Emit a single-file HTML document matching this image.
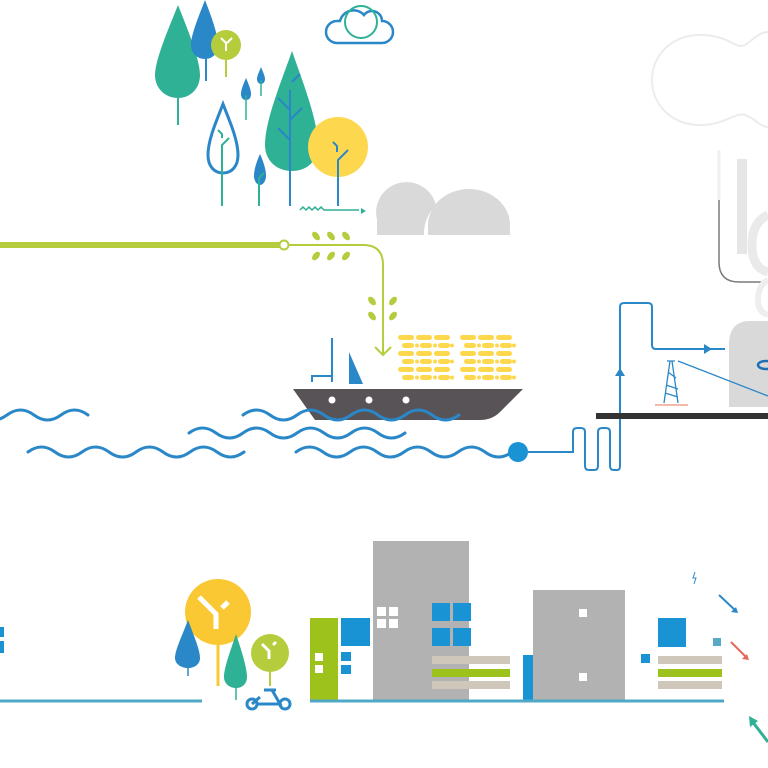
<!DOCTYPE html>
<html><head><meta charset="utf-8"><style>html,body{margin:0;padding:0;background:#fff}svg{display:block}</style></head>
<body>
<svg width="768" height="768" viewBox="0 0 768 768" xmlns="http://www.w3.org/2000/svg">
<!-- ghost shapes top right -->
<g fill="none" stroke="#ececec" stroke-width="2">
<path d="M700 35 C 730 35 735 50 745 45 C 755 38 760 32 768 32 M700 35 C 672 35 652 55 652 80 C 652 105 672 125 700 125 C 725 125 735 112 745 115 C 755 118 760 127 768 127"/>
</g>
<path d="M719 150 L719 262 Q719 282 739 282 L768 282" fill="none" stroke="#7a7a7a" stroke-width="1.5"/>
<path d="M719 150 L719 200" stroke="#f0f0f0" stroke-width="3"/>
<rect x="737" y="159" width="10" height="95" fill="#e6e6e6"/>
<path d="M768 215 Q752 222 752 245 Q752 268 768 272" fill="none" stroke="#eaeaea" stroke-width="9"/>
<path d="M768 280 Q758 285 758 300 Q758 312 768 315" fill="none" stroke="#eeeeee" stroke-width="6"/>

<!-- top trees -->
<path d="M178 5 C168 30 155 60 155 75 C155 88 165 98 178 98 C191 98 200 88 200 75 C200 60 188 30 178 5Z" fill="#2fb195"/>
<line x1="178" y1="98" x2="178" y2="125" stroke="#2fb195" stroke-width="2"/>
<path d="M205 0 C198 18 191 35 191 45 C191 53 197 59 205 59 C213 59 218 53 218 45 C218 35 212 18 205 0Z" fill="#2a87c8"/>
<line x1="206" y1="59" x2="206" y2="81" stroke="#2a87c8" stroke-width="2"/>
<circle cx="226" cy="45" r="15" fill="#b5cc3d"/>
<line x1="226" y1="55" x2="226" y2="77" stroke="#b5cc3d" stroke-width="2"/>
<path d="M221 38 l5 5 v8 M227 43 l5 -5" stroke="#fff" stroke-width="2" fill="none"/>
<path d="M246 78 c-3 7-5 12-5 16 c0 4 2 6 5 6 c3 0 5-2 5-6 c0-4-2-9-5-16Z" fill="#2a87c8"/>
<line x1="246" y1="95" x2="246" y2="120" stroke="#2fb195" stroke-width="1.5"/>
<path d="M261 67 c-2 5-4 9-4 12 c0 3 2 5 4 5 c2 0 4-2 4-5 c0-3-2-7-4-12Z" fill="#2a87c8"/>
<line x1="261" y1="80" x2="261" y2="96" stroke="#2fb195" stroke-width="1.5"/>
<path d="M223 104 C216 122 208 140 208 155 C208 166 214 173 223 173 C232 173 238 166 238 155 C238 140 230 122 223 104Z" fill="none" stroke="#2a87c8" stroke-width="3"/>
<path d="M222 206 V145 l7 -7 M218 130 l4 4 v4" stroke="#2fb195" stroke-width="2" fill="none"/>
<path d="M260 154 c-4 9-6 16-6 22 c0 5 3 9 6 9 c3 0 6-4 6-9 c0-6-2-13-6-22Z" fill="#2a87c8"/>
<path d="M259 206 V178 l5 -5" stroke="#2fb195" stroke-width="2" fill="none"/>
<path d="M292 51 C282 80 265 120 265 145 C265 160 276 171 292 171 C308 171 318 160 318 145 C318 120 302 80 292 51Z" fill="#2fb195"/>
<path d="M290 206 V90 M290 110 l-12 -12 M290 120 l12 -12 M290 140 l-12 -12 M292 82 l8 -8" stroke="#2a87c8" stroke-width="2" fill="none"/>
<circle cx="338" cy="147" r="30" fill="#fdd84f"/>
<path d="M338 206 V160 l10 -10 M333 142 l4 4 v6" stroke="#2a87c8" stroke-width="2" fill="none"/>
<path d="M300 210 l3 -3 l3 3 l3 -3 l3 3 l3 -3 l3 3 l3 -3 l3 3 h35" stroke="#2fb195" stroke-width="1.5" fill="none"/>
<path d="M366 211 l-5 -3 v6z" fill="#2fb195"/>
<!-- cloud -->
<path d="M337 43 h45 a11 11 0 0 0 0 -22 a10 10 0 0 0 -18 -6 a14 14 0 0 0 -24 6 h-3 a11 11 0 0 0 0 22z" fill="none" stroke="#2a87c8" stroke-width="2.5"/>
<circle cx="361" cy="22" r="16" fill="none" stroke="#2fb195" stroke-width="2"/>
<!-- domes -->
<path d="M377 235 V220 A30 30 0 0 1 436 205 A40 40 0 0 0 424 235Z" fill="#d9d9d9"/>
<path d="M428 235 V225 A41 36 0 0 1 510 225 V235Z" fill="#d9d9d9"/>
<!-- green line -->
<line x1="0" y1="245" x2="280" y2="245" stroke="#b5cc3d" stroke-width="6"/>
<circle cx="284" cy="245" r="4.5" fill="#fff" stroke="#b5cc3d" stroke-width="2"/>
<path d="M289 245 H363 Q383 245 383 265 V355" fill="none" stroke="#b5cc3d" stroke-width="2"/>
<path d="M375 347 l8 8 l8 -8" fill="none" stroke="#b5cc3d" stroke-width="2"/>
<g fill="#b5cc3d">
<ellipse cx="316" cy="236" rx="3" ry="5" transform="rotate(-40 316 236)"/>
<ellipse cx="331" cy="236" rx="3" ry="5" transform="rotate(-40 331 236)"/>
<ellipse cx="346" cy="236" rx="3" ry="5" transform="rotate(-40 346 236)"/>
<ellipse cx="316" cy="256" rx="3" ry="5" transform="rotate(40 316 256)"/>
<ellipse cx="331" cy="256" rx="3" ry="5" transform="rotate(40 331 256)"/>
<ellipse cx="346" cy="256" rx="3" ry="5" transform="rotate(40 346 256)"/>
<ellipse cx="372" cy="301" rx="3" ry="5" transform="rotate(-40 372 301)"/>
<ellipse cx="393" cy="301" rx="3" ry="5" transform="rotate(40 393 301)"/>
<ellipse cx="372" cy="316" rx="3" ry="5" transform="rotate(-40 372 316)"/>
<ellipse cx="393" cy="316" rx="3" ry="5" transform="rotate(40 393 316)"/>
</g>
<!-- cargo -->
<g fill="#fdd84f">
<g id="c1">
<rect x="398" y="335" width="16" height="5" rx="2.5"/><rect x="416" y="335" width="16" height="5" rx="2.5"/><rect x="434" y="335" width="16" height="5" rx="2.5"/>
<rect x="402" y="343" width="12" height="5" rx="2.5"/><circle cx="417" cy="345.5" r="2"/><rect x="420" y="343" width="12" height="5" rx="2.5"/><circle cx="435" cy="345.5" r="2"/><rect x="438" y="343" width="12" height="5" rx="2.5"/><circle cx="452" cy="345.5" r="2"/>
<rect x="398" y="351" width="16" height="5" rx="2.5"/><rect x="416" y="351" width="16" height="5" rx="2.5"/><rect x="434" y="351" width="16" height="5" rx="2.5"/>
<rect x="402" y="359" width="12" height="5" rx="2.5"/><circle cx="417" cy="361.5" r="2"/><rect x="420" y="359" width="12" height="5" rx="2.5"/><circle cx="435" cy="361.5" r="2"/><rect x="438" y="359" width="12" height="5" rx="2.5"/><circle cx="452" cy="361.5" r="2"/>
<rect x="398" y="367" width="16" height="5" rx="2.5"/><rect x="416" y="367" width="16" height="5" rx="2.5"/><rect x="434" y="367" width="16" height="5" rx="2.5"/>
<rect x="402" y="375" width="12" height="5" rx="2.5"/><circle cx="417" cy="377.5" r="2"/><rect x="420" y="375" width="12" height="5" rx="2.5"/><circle cx="435" cy="377.5" r="2"/><rect x="438" y="375" width="12" height="5" rx="2.5"/><circle cx="452" cy="377.5" r="2"/>
</g>
<use href="#c1" x="62"/>
</g>
<!-- ship -->
<path d="M332 338 V382 M312 382 V376 H332" stroke="#2a87c8" stroke-width="2" fill="none"/>
<path d="M349 352 V384 H363Z" fill="#2a87c8"/>
<path d="M293 389 H523 L500 412 Q492 420 480 420 H315Z" fill="#575357"/>
<circle cx="332" cy="400" r="3.5" fill="#fff"/><circle cx="369" cy="400" r="3.5" fill="#fff"/><circle cx="406" cy="400" r="3.5" fill="#fff"/>
<!-- waves -->
<g fill="none" stroke="#2a87c8" stroke-width="3" stroke-linecap="round">
<path d="M0 415 q13.5 10 27 0 t27 0 t27 0 t27 0" transform="translate(-20 0)" />
<path d="M243 415 q13.5 -10 27 0 t27 0 t27 0 t27 0 t27 0 t27 0 t27 0 t27 0"/>
<path d="M189 433 q13.5 -10 27 0 t27 0 t27 0 t27 0 t27 0 t27 0 t27 0 t27 0"/>
<path d="M28 452 q13.5 -10 27 0 t27 0 t27 0 t27 0 t27 0 t27 0 t27 0 t27 0"/>
<path d="M296 452 q13.5 -10 27 0 t27 0 t27 0 t27 0 t27 0 t27 0 t27 0 t27 0"/>
</g>
<circle cx="518" cy="452" r="10" fill="#1a93d4"/>
<path d="M528 452 H573 V432 Q573 428 577 428 H581 Q585 428 585 432 V466 Q585 470 589 470 H594 Q598 470 598 466 V432 Q598 428 602 428 H606 Q610 428 610 432 V466 Q610 470 614 470 H617 Q620 470 620 466 V307 Q620 303 624 303 H648 Q652 303 652 307 V345 Q652 349 656 349 H725" fill="none" stroke="#2a87c8" stroke-width="2"/>
<path d="M704 344 l8 5 l-8 5z" fill="#2a87c8"/>
<path d="M615 376 l5 -8 l5 8z" fill="#2a87c8"/>
<!-- tower & right -->
<rect x="596" y="413" width="172" height="6" fill="#333"/>
<path d="M729 407 V345 Q729 321 750 321 H768 V407Z" fill="#d9d9d9"/>
<ellipse cx="766" cy="365" rx="8" ry="4" fill="none" stroke="#1f6fb5" stroke-width="2.5"/>
<path d="M678 361 L768 396" stroke="#2a87c8" stroke-width="1.3"/>
<path d="M667 361 H675 M670 361 L664 403 M672 361 L678 403 M668 372 L676 378 M666 385 L678 389 M665 393 L678 397" stroke="#2a87c8" stroke-width="1.3" fill="none"/>
<line x1="655" y1="405" x2="688" y2="405" stroke="#f0a090" stroke-width="1.5"/>
<!-- bottom left -->
<rect x="0" y="627" width="4" height="10" fill="#1a93d4"/><rect x="0" y="641" width="4" height="12" fill="#1a93d4"/>
<line x1="0" y1="701" x2="202" y2="701" stroke="#4fa8c6" stroke-width="3"/>
<circle cx="218" cy="612" r="33" fill="#f9c832"/>
<line x1="218" y1="640" x2="218" y2="686" stroke="#f9c832" stroke-width="3"/>
<path d="M199 597 l17 17 v15 M222 608 l6 -6" stroke="#fff" stroke-width="5" fill="none"/>
<path d="M188 620 C182 636 175 650 175 658 C175 664 181 668 188 668 C195 668 200 664 200 658 C200 650 194 636 188 620Z" fill="#2a87c8"/>
<line x1="188" y1="665" x2="188" y2="676" stroke="#2a87c8" stroke-width="1.5"/>
<path d="M236 634 C230 652 224 668 224 677 C224 683 229 688 236 688 C243 688 247 683 247 677 C247 668 242 652 236 634Z" fill="#2fb195"/>
<line x1="236" y1="686" x2="236" y2="700" stroke="#2fb195" stroke-width="1.5"/>
<circle cx="270" cy="653" r="19" fill="#b5cc3d"/>
<line x1="270" y1="668" x2="270" y2="686" stroke="#b5cc3d" stroke-width="2"/>
<path d="M262 644 l7 7 v8 M273 645 l3 -3" stroke="#fff" stroke-width="3" fill="none"/>
<g fill="none" stroke="#2a87c8" stroke-width="3">
<circle cx="252" cy="704" r="5"/><circle cx="285" cy="704" r="5"/>
<path d="M257 704 H280 L272 690 M264 690 H276 M252 704 L260 697"/>
</g>
<!-- buildings -->
<rect x="373" y="541" width="96" height="160" fill="#b2b2b2"/>
<rect x="533" y="590" width="92" height="111" fill="#b2b2b2"/>
<rect x="310" y="618" width="28" height="83" fill="#9dc21b"/>
<g fill="#fff">
<rect x="315" y="653" width="8" height="8"/><rect x="315" y="665" width="8" height="8"/>
<rect x="377" y="607" width="9" height="9"/><rect x="389" y="607" width="9" height="9"/><rect x="377" y="619" width="9" height="9"/><rect x="389" y="619" width="9" height="9"/>
<rect x="579" y="609" width="8" height="8"/><rect x="579" y="673" width="8" height="8"/>
</g>
<g fill="#1a93d4">
<rect x="341" y="618" width="29" height="28"/>
<rect x="341" y="652" width="10" height="9"/><rect x="341" y="665" width="10" height="9"/>
<rect x="432" y="603" width="18" height="18"/><rect x="453" y="603" width="18" height="18"/><rect x="432" y="628" width="18" height="18"/><rect x="453" y="628" width="18" height="18"/>
<rect x="523" y="655" width="10" height="46"/>
<rect x="658" y="618" width="28" height="29"/>
<rect x="641" y="654" width="9" height="9"/>
</g>
<rect x="713" y="638" width="8" height="8" fill="#5aa9c4"/>
<rect x="432" y="656" width="78" height="8" fill="#cfc7b9"/>
<rect x="432" y="669" width="78" height="8" fill="#9dc21b"/>
<rect x="432" y="681" width="78" height="8" fill="#cfc7b9"/>
<rect x="658" y="656" width="64" height="8" fill="#cfc7b9"/>
<rect x="658" y="669" width="64" height="8" fill="#9dc21b"/>
<rect x="658" y="681" width="64" height="8" fill="#cfc7b9"/>
<line x1="310" y1="701" x2="724" y2="701" stroke="#4fa8c6" stroke-width="3"/>
<!-- arrows -->
<path d="M695 572 l-2 6 h3 l-2 6" stroke="#2a87c8" stroke-width="1" fill="none"/>
<path d="M719 595 L736 611" stroke="#2a87c8" stroke-width="2"/><path d="M738 613 l-7 -1 l5 -5z" fill="#2a87c8"/>
<path d="M731 642 L747 658" stroke="#e8685a" stroke-width="2"/><path d="M749 660 l-7 -1 l5 -5z" fill="#e8685a"/>
<path d="M752 721 L768 742" stroke="#2fb195" stroke-width="3"/><path d="M749 716 l1 11 l8 -6z" fill="#2fb195"/>
</svg>
</body></html>
